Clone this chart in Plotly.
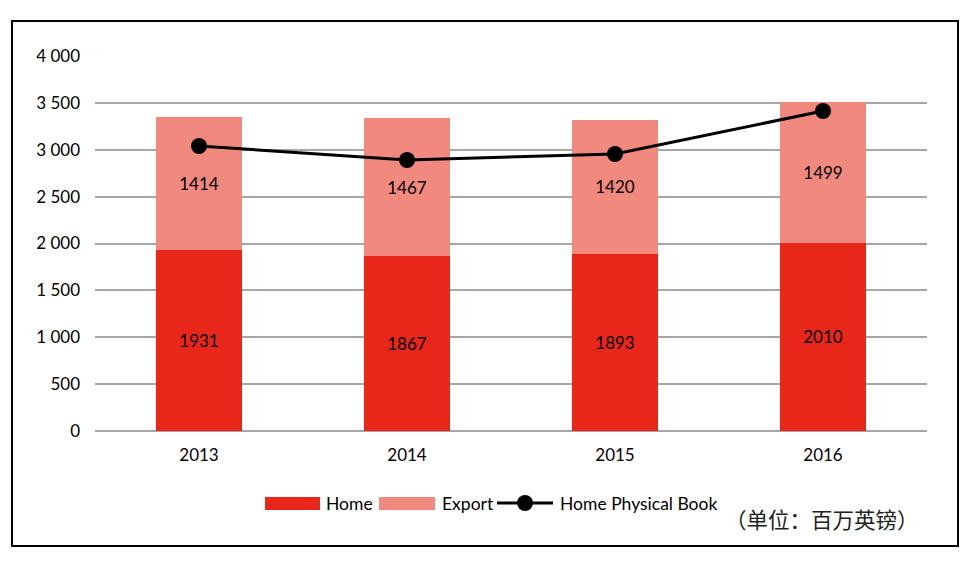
import plotly.graph_objects as go

years = ["2013", "2014", "2015", "2016"]
home = [1931, 1867, 1893, 2010]
export = [1414, 1467, 1420, 1499]
physical = [3040, 2891, 2955, 3413]
y_ticks = [0, 500, 1000, 1500, 2000, 2500, 3000, 3500, 4000]
legend_names = ["Home", "Export", "Home Physical Book"]

FONT = "Lato"
HOME_C = "#E8261A"
EXPORT_C = "#F2897E"

fig = go.Figure()
fig.add_trace(go.Bar(
    x=years, y=home, name=legend_names[0], marker=dict(color=HOME_C, line=dict(width=0)),
    text=[str(v) for v in home], textposition="inside", insidetextanchor="middle",
    textangle=0, textfont=dict(color="#000000", size=17, family=FONT),
))
fig.add_trace(go.Bar(
    x=years, y=export, name=legend_names[1], marker=dict(color=EXPORT_C, line=dict(width=0)),
    text=[str(v) for v in export], textposition="inside", insidetextanchor="middle",
    textangle=0, textfont=dict(color="#000000", size=17, family=FONT),
))
fig.add_trace(go.Scatter(
    x=years, y=physical, name=legend_names[2], mode="lines+markers",
    line=dict(color="#000000", width=3), marker=dict(color="#000000", size=16),
))

# helpers converting screen pixels to paper coords (plot area x 95-927, y 56-431)
def px(x):
    return (x - 95) / 832

def py(y):
    return (431 - y) / 375

LY = 503
shapes = [
    dict(type="rect", xref="paper", yref="paper", x0=px(12), x1=px(958), y0=py(546), y1=py(21),
         line=dict(color="#000000", width=2), fillcolor="rgba(0,0,0,0)"),
    # legend swatches
    dict(type="rect", xref="paper", yref="paper", x0=px(265), x1=px(320), y0=py(510), y1=py(497),
         line=dict(width=0), fillcolor=HOME_C),
    dict(type="rect", xref="paper", yref="paper", x0=px(379), x1=px(435), y0=py(510), y1=py(497),
         line=dict(width=0), fillcolor=EXPORT_C),
    dict(type="line", xref="paper", yref="paper", x0=px(497), x1=px(553), y0=py(LY), y1=py(LY),
         line=dict(color="#000000", width=3)),
    dict(type="circle", xref="paper", yref="paper", x0=px(517), x1=px(533), y0=py(511), y1=py(495),
         line=dict(width=0), fillcolor="#000000"),
]

annotations = [
    dict(text=legend_names[0], x=px(324), y=py(LY)),
    dict(text=legend_names[1], x=px(440), y=py(LY)),
    dict(text=legend_names[2], x=px(558), y=py(LY)),
]
for a in annotations:
    a.update(xref="paper", yref="paper", showarrow=False, xanchor="left", yanchor="middle",
             font=dict(family=FONT, size=17.5, color="#000000"))
annotations.append(dict(text="（单位：百万英镑）", xref="paper", yref="paper", x=px(822), y=py(518),
                        showarrow=False, xanchor="center", yanchor="middle",
                        font=dict(family="Noto Sans CJK SC", size=21.5, color="#222222")))

# page body has an 8px default margin: margins compensate so the plot area lands at x 95-927, y 56-431
fig.update_layout(
    width=977, height=562,
    barmode="stack", bargap=0.59,
    separators=". ",
    plot_bgcolor="white", paper_bgcolor="white",
    margin=dict(l=87, r=58, t=48, b=139),
    font=dict(family=FONT, size=16, color="#000000"),
    showlegend=False,
    xaxis=dict(showgrid=False, showline=False, ticks="", ticklabelstandoff=12,
               tickfont=dict(size=17, family=FONT, color="#000000")),
    yaxis=dict(range=[0, 4000], tickvals=y_ticks, tickformat=",d", showgrid=True,
               gridcolor="#A6A6A6", gridwidth=1.5, zeroline=True, zerolinecolor="#A6A6A6",
               zerolinewidth=1.5, ticks="", ticklabelstandoff=14,
               tickfont=dict(size=17, family=FONT, color="#000000")),
    shapes=shapes,
    annotations=annotations,
)

fig.write_html("out.html")
